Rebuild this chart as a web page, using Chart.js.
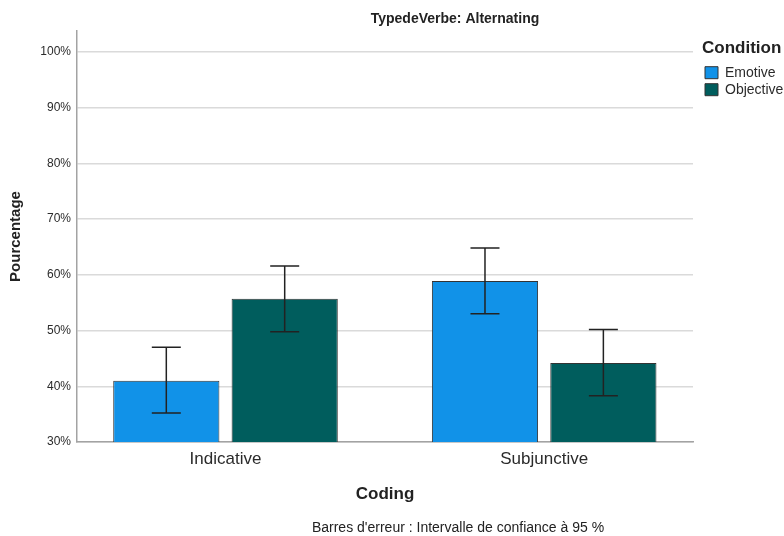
<!DOCTYPE html>
<html>
<head>
<meta charset="utf-8">
<script src="https://cdn.jsdelivr.net/npm/chart.js@4.4.1/dist/chart.umd.min.js"></script>
<style>
  body { margin: 0; background: #fff; }
  canvas { display: block; }
</style>
</head>
<body>
<canvas id="graficoBarras" width="784" height="536"></canvas>
<script>
// dados
const categorias = ['Indicative', 'Subjunctive'];
const emotive = [41.0, 58.9];
const emotiveBaixo = [35.2, 53.0];
const emotiveAlto = [47.0, 64.8];
const objective = [55.7, 44.2];
const objectiveBaixo = [49.8, 38.3];
const objectiveAlto = [61.6, 50.2];
const ticksY = [30, 40, 50, 60, 70, 80, 90, 100];

const titulo = 'TypedeVerbe: Alternating';
const rodape = "Barres d'erreur : Intervalle de confiance à 95 %";

Chart.defaults.font.family = '"Liberation Sans", Arial, sans-serif';
Chart.defaults.color = '#252525';

// barras de erro (IC 95%)
const barrasErro = {
    id: 'barrasErro',
    afterDatasetsDraw(chart) {
        const ctx = chart.ctx;
        const y = chart.scales.y;
        chart.data.datasets.forEach((ds, di) => {
            const meta = chart.getDatasetMeta(di);
            meta.data.forEach((bar, i) => {
                const yAlto = y.getPixelForValue(ds.alto[i]);
                const yBaixo = y.getPixelForValue(ds.baixo[i]);
                ctx.save();
                ctx.strokeStyle = '#222';
                ctx.lineWidth = 1.5;
                ctx.beginPath();
                ctx.moveTo(bar.x, yAlto);
                ctx.lineTo(bar.x, yBaixo);
                ctx.moveTo(bar.x - 14.5, yAlto);
                ctx.lineTo(bar.x + 14.5, yAlto);
                ctx.moveTo(bar.x - 14.5, yBaixo);
                ctx.lineTo(bar.x + 14.5, yBaixo);
                ctx.stroke();
                ctx.restore();
            });
        });
    }
};

// titulo e nota de rodape
const textosExtras = {
    id: 'textosExtras',
    afterDraw(chart) {
        const ctx = chart.ctx;
        ctx.save();
        ctx.fillStyle = '#222';
        ctx.textAlign = 'center';
        ctx.textBaseline = 'middle';
        ctx.font = 'bold 14px "Liberation Sans", Arial, sans-serif';
        ctx.fillText(titulo, 455, 19);
        ctx.font = '14px "Liberation Sans", Arial, sans-serif';
        ctx.fillText(rodape, 458, 528);
        ctx.restore();
    }
};

const ctx1 = document.getElementById('graficoBarras').getContext('2d');

new Chart(ctx1, {
    type: 'bar',
    data: {
        datasets: [{
            label: 'Emotive',
            data: emotive.map((v, i) => ({x: i, y: v})),
            baixo: emotiveBaixo,
            alto: emotiveAlto,
            backgroundColor: '#1192e8',
            borderColor: '#333',
            borderWidth: 1,
            borderSkipped: false
        }, {
            label: 'Objective',
            data: objective.map((v, i) => ({x: i, y: v})),
            baixo: objectiveBaixo,
            alto: objectiveAlto,
            backgroundColor: '#005d5d',
            borderColor: '#333',
            borderWidth: 1,
            borderSkipped: false
        }]
    },
    options: {
        responsive: false,
        animation: false,
        categoryPercentage: 0.743,
        barPercentage: 0.897,
        layout: {
            padding: {top: 31, left: 0, right: 0, bottom: 0}
        },
        scales: {
            x: {
                type: 'linear',
                offset: false,
                min: -0.466,
                max: 1.467,
                grid: {display: false, drawTicks: false},
                border: {display: true, color: '#a3a3a3', width: 1.5},
                afterBuildTicks: scale => {
                    scale.ticks = categorias.map((c, i) => ({value: i}));
                },
                afterFit: scale => {
                    scale.height = 94;
                },
                ticks: {
                    padding: 7,
                    font: {size: 17},
                    color: '#2b2b2b',
                    callback: value => categorias[value]
                },
                title: {
                    display: true,
                    text: 'Coding',
                    font: {size: 17, weight: 'bold'},
                    color: '#222',
                    padding: {top: 0, bottom: 31}
                }
            },
            y: {
                min: 30,
                max: 103.77,
                grid: {color: '#dadada', lineWidth: 1.5, drawTicks: false},
                border: {display: true, color: '#a3a3a3', width: 1.5},
                afterBuildTicks: scale => {
                    scale.ticks = ticksY.map(v => ({value: v}));
                },
                afterFit: scale => {
                    scale.width = 77;
                },
                ticks: {
                    padding: 6,
                    font: {size: 12},
                    color: '#2b2b2b',
                    callback: value => value + '%'
                },
                title: {
                    display: true,
                    text: 'Pourcentage',
                    font: {size: 15, weight: 'bold'},
                    color: '#222',
                    padding: {top: 7, bottom: 0}
                }
            },
            // espaco entre area do grafico e legenda
            espaco: {
                type: 'linear',
                position: 'right',
                display: true,
                grid: {display: false, drawTicks: false},
                border: {display: false},
                ticks: {display: false},
                afterFit: scale => {
                    scale.width = 9;
                }
            }
        },
        plugins: {
            legend: {
                position: 'right',
                align: 'start',
                maxWidth: 82,
                title: {
                    display: true,
                    text: 'Condition',
                    position: 'start',
                    color: '#222',
                    font: {size: 17, weight: 'bold'},
                    padding: {top: 8.5, bottom: 2.8}
                },
                labels: {
                    boxWidth: 13,
                    boxHeight: 12,
                    padding: 3,
                    color: '#2b2b2b',
                    font: {size: 14}
                }
            },
            tooltip: {enabled: false}
        }
    },
    plugins: [barrasErro, textosExtras]
});
</script>
</body>
</html>
